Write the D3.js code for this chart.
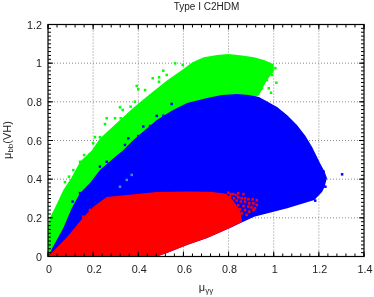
<!DOCTYPE html>
<html>
<head>
<meta charset="utf-8">
<script src="https://cdn.jsdelivr.net/npm/d3@7"></script>
<style>
  html, body { margin: 0; padding: 0; background: #fff; }
  svg { filter: blur(0.35px); }
  text { font-family: "Liberation Sans", Arial, sans-serif; fill: #222; }
</style>
</head>
<body>
<div id="my_dataviz"></div>
<script>
// outlines of the three point clouds as [mu_yy, mu_bb]
const greenOutline = [[0,0],[0,0.16],[0.01,0.205],[0.03,0.25],[0.068,0.344],[0.105,0.41],[0.142,0.49],[0.195,0.55],[0.23,0.61],[0.29,0.675],[0.378,0.77],[0.452,0.84],[0.527,0.91],[0.6,0.97],[0.64,1.005],[0.69,1.03],[0.75,1.042],[0.8,1.047],[0.86,1.04],[0.913,1.03],[0.96,1.015],[1.0,0.995],[1.0,0.955],[0.97,0.913],[0.935,0.835],[0.6,0.6],[0.2,0.1]];
const blueOutline = [[0,0],[0.022,0.05],[0.068,0.147],[0.105,0.25],[0.142,0.328],[0.186,0.38],[0.23,0.447],[0.29,0.508],[0.333,0.55],[0.378,0.603],[0.482,0.706],[0.55,0.755],[0.616,0.794],[0.705,0.82],[0.77,0.835],[0.837,0.84],[0.89,0.835],[0.935,0.825],[1.015,0.773],[1.06,0.73],[1.103,0.68],[1.14,0.625],[1.17,0.566],[1.205,0.483],[1.225,0.44],[1.236,0.406],[1.225,0.36],[1.214,0.334],[1.18,0.292],[1.06,0.25],[0.913,0.205],[0.806,0.147],[0.705,0.096],[0.616,0.06],[0.527,0.018],[0.482,0]];
const redOutline = [[0,0],[0.084,0.1],[0.155,0.2],[0.2,0.256],[0.26,0.308],[0.482,0.334],[0.616,0.336],[0.72,0.335],[0.79,0.325],[0.82,0.29],[0.85,0.24],[0.86,0.18],[0.806,0.147],[0.705,0.096],[0.616,0.06],[0.527,0.018],[0.482,0]];

// stragglers outside the dense regions
const greenPoints = [[0.393,0.882],[0.4,0.865],[0.43,0.861],[0.464,0.922],[0.492,0.927],[0.492,0.904],[0.511,0.961],[0.526,0.939],[0.563,0.999],[0.597,0.991],[0.319,0.772],[0.331,0.758],[0.366,0.775],[0.385,0.801],[0.26,0.715],[0.2525,0.685],[0.297,0.715],[0.322,0.715],[0.208,0.617],[0.23,0.617],[0.2,0.586],[0.112,0.447],[0.093,0.413],[0.075,0.385],[0.142,0.49],[0.16,0.525],[0.186,0.53],[1.012,0.899],[0.988,0.847],[0.978,0.87],[0.948,0.87],[0.97,0.913],[0.992,0.939],[1.007,0.974],[0.978,0.939]];
const bluePoints = [[1.303,0.425],[1.229,0.361],[1.221,0.439],[1.184,0.289],[0.548,0.789],[0.511,0.728],[0.482,0.727],[0.422,0.672],[0.452,0.675],[0.4,0.623],[0.356,0.611],[0.341,0.577],[0.109,0.284],[0.142,0.328],[0.23,0.465],[0.26,0.49]];
const greenOnBluePoints = [[0.371,0.422],[0.349,0.396],[0.319,0.361]];
const redPoints = [[0.799,0.33],[0.809,0.323],[0.821,0.323],[0.833,0.318],[0.843,0.327],[0.866,0.323],[0.806,0.31],[0.824,0.301],[0.843,0.306],[0.858,0.301],[0.873,0.301],[0.888,0.296],[0.907,0.296],[0.925,0.292],[0.836,0.289],[0.854,0.284],[0.873,0.284],[0.892,0.275],[0.91,0.275],[0.925,0.266],[0.843,0.266],[0.866,0.261],[0.888,0.258],[0.902,0.254],[0.917,0.249],[0.851,0.244],[0.873,0.241],[0.892,0.232],[0.91,0.241],[0.858,0.223],[0.88,0.215],[0.836,0.197],[0.851,0.189],[0.186,0.241],[0.156,0.206]];

const xTicks = [0, 0.2, 0.4, 0.6, 0.8, 1, 1.2, 1.4];
const yTicks = [0, 0.2, 0.4, 0.6, 0.8, 1, 1.2];

const width = 374, height = 297;
const margin = { top: 24.5, right: 10, bottom: 40.5, left: 48 };

const svg = d3.select("#my_dataviz").append("svg")
  .attr("width", width).attr("height", height)
  .style("display", "block");

const x = d3.scaleLinear().domain([0, 1.4]).range([margin.left, width - margin.right]);
const y = d3.scaleLinear().domain([0, 1.2]).range([height - margin.bottom, margin.top]);

// grid first, the clouds cover it
svg.append("g").selectAll("line").data(xTicks.slice(1, -1)).enter().append("line")
  .attr("x1", d => x(d)).attr("x2", d => x(d))
  .attr("y1", y(0)).attr("y2", y(1.2))
  .attr("stroke", "#888").attr("stroke-width", 1).attr("stroke-dasharray", "1,2");
svg.append("g").selectAll("line").data(yTicks.slice(1, -1)).enter().append("line")
  .attr("y1", d => y(d)).attr("y2", d => y(d))
  .attr("x1", x(0)).attr("x2", x(1.4))
  .attr("stroke", "#888").attr("stroke-width", 1).attr("stroke-dasharray", "1,2");

const outline = d3.line().x(d => x(d[0])).y(d => y(d[1]));

function drawDots(dots, color) {
  svg.append("g").selectAll("rect").data(dots).enter().append("rect")
    .attr("x", d => x(d[0]) - 1.25)
    .attr("y", d => y(d[1]) - 1.25)
    .attr("width", 2.5).attr("height", 2.5)
    .attr("fill", color);
}

function drawCloud(points, dots, color) {
  svg.append("path")
    .attr("d", outline(points) + "Z")
    .attr("fill", color);
  drawDots(dots, color);
}

drawCloud(greenOutline, greenPoints, "#00ff00");
drawCloud(blueOutline, bluePoints, "#0000ff");
drawDots(greenOnBluePoints, "#3a8fd0");
drawCloud(redOutline, redPoints, "#ff0000");

// axes, ticks on all four sides
const minorX = d3.range(0, 36).map(d => d * 0.04);
const minorY = d3.range(0, 61).map(d => d * 0.02);
const frame = svg.append("g");
function tickLines(data, isX, len) {
  data.forEach(function(d) {
    if (isX) {
      frame.append("line").attr("x1", x(d)).attr("x2", x(d)).attr("y1", y(0)).attr("y2", y(0) - len).attr("stroke", "#000");
      frame.append("line").attr("x1", x(d)).attr("x2", x(d)).attr("y1", y(1.2)).attr("y2", y(1.2) + len).attr("stroke", "#000");
    } else {
      frame.append("line").attr("y1", y(d)).attr("y2", y(d)).attr("x1", x(0)).attr("x2", x(0) + len).attr("stroke", "#000");
      frame.append("line").attr("y1", y(d)).attr("y2", y(d)).attr("x1", x(1.4)).attr("x2", x(1.4) - len).attr("stroke", "#000");
    }
  });
}
tickLines(minorX, true, 3);
tickLines(minorY, false, 3);
tickLines(xTicks, true, 5);
tickLines(yTicks, false, 5);

frame.append("rect")
  .attr("x", x(0)).attr("y", y(1.2))
  .attr("width", x(1.4) - x(0)).attr("height", y(0) - y(1.2))
  .attr("fill", "none").attr("stroke", "#000").attr("stroke-width", 1.2);

svg.append("g").selectAll("text").data(xTicks).enter().append("text")
  .attr("x", d => x(d) + 1).attr("y", 272.5)
  .attr("text-anchor", "middle").attr("font-size", 10.8)
  .text(d => d);
svg.append("g").selectAll("text").data(yTicks).enter().append("text")
  .attr("x", 42).attr("y", d => y(d) + 4)
  .attr("text-anchor", "end").attr("font-size", 10.8)
  .text(d => d);

svg.append("text").attr("x", 206.5).attr("y", 9.5)
  .attr("text-anchor", "middle").attr("font-size", 10)
  .text("Type I C2HDM");

const xLabel = svg.append("text").attr("x", 206).attr("y", 291)
  .attr("text-anchor", "middle").attr("font-size", 11);
xLabel.append("tspan").text("\u03bc");
xLabel.append("tspan").attr("dy", 2).attr("font-size", 8).text("\u03b3\u03b3");

const yLabel = svg.append("text")
  .attr("transform", "translate(11,140) rotate(-90)")
  .attr("text-anchor", "middle").attr("font-size", 11);
yLabel.append("tspan").text("\u03bc");
yLabel.append("tspan").attr("dy", 2).attr("font-size", 8).text("bb");
yLabel.append("tspan").attr("dy", -2).text("(VH)");
</script>
</body>
</html>
